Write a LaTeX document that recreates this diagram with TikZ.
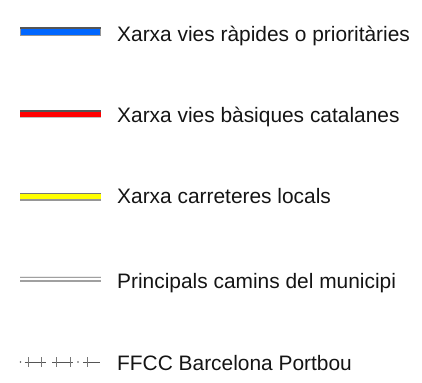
\documentclass[tikz,border=0pt]{standalone}
\usepackage{fontspec}
\setmainfont{Liberation Sans}
\definecolor{vblue}{RGB}{0,102,255}
\definecolor{vred}{RGB}{255,0,0}
\definecolor{vyellow}{RGB}{255,255,0}
\definecolor{edgedark}{RGB}{85,85,85}
\definecolor{edgelight}{RGB}{150,150,150}
\definecolor{camgray}{RGB}{160,160,160}
\definecolor{txt}{RGB}{20,20,20}
\begin{document}
\begin{tikzpicture}[x=1pt,y=-1pt,
  lbl/.style={anchor=base west,inner sep=0pt,font=\fontsize{20.9}{24}\selectfont,text=txt}]
\useasboundingbox (0,0) rectangle (422,382);
% blue
\fill[edgelight] (19.5,27.3) rectangle (100.5,36);
\fill[edgedark] (19.5,27.3) rectangle (100.5,29);
\fill[vblue] (20.5,29) rectangle (99.5,35);
\node[lbl] (t1) at (117,41.6) {Xarxa vies ràpides o prioritàries};
% red
\fill[edgelight!60] (19.5,110) rectangle (100.5,118);
\fill[edgedark] (19.5,110) rectangle (100.5,112);
\fill[vred] (19.5,112) rectangle (100.5,117);
\node[lbl] (t2) at (117,122.5) {Xarxa vies bàsiques catalanes};
% yellow
\fill[edgelight] (19.5,192.7) rectangle (100.5,200.7);
\fill[edgedark!80] (19.5,192.7) rectangle (100.5,194);
\fill[vyellow] (19.5,194) rectangle (100.5,199);
\node[lbl] (t3) at (117,203.5) {Xarxa carreteres locals};
% gray double
\fill[gray!15] (19.5,276) rectangle (100.5,282.3);
\fill[camgray] (19.5,276.7) rectangle (100.5,278.4);
\fill[white] (19.5,278.4) rectangle (100.5,280);
\fill[camgray] (19.5,280) rectangle (100.5,281.6);
\node[lbl] (t4) at (117,288.3) {Principals camins del municipi};
% railway
\begin{scope}[edgedark,line width=0.9pt]
\draw (24.5,362) -- (45.5,362);
\draw (52,362) -- (72.5,362);
\draw (83,362) -- (100,362);
\fill (20.5,362) circle (0.8);
\fill (78,362) circle (0.8);
\end{scope}
\begin{scope}[edgedark!80,line width=1pt]
\foreach \x in {28.5,41.5,56.8,70.5,87.7} \draw (\x,357) -- (\x,367);
\end{scope}
\node[lbl] (t5) at (117,370) {FFCC Barcelona Portbou};
\end{tikzpicture}
\end{document}
